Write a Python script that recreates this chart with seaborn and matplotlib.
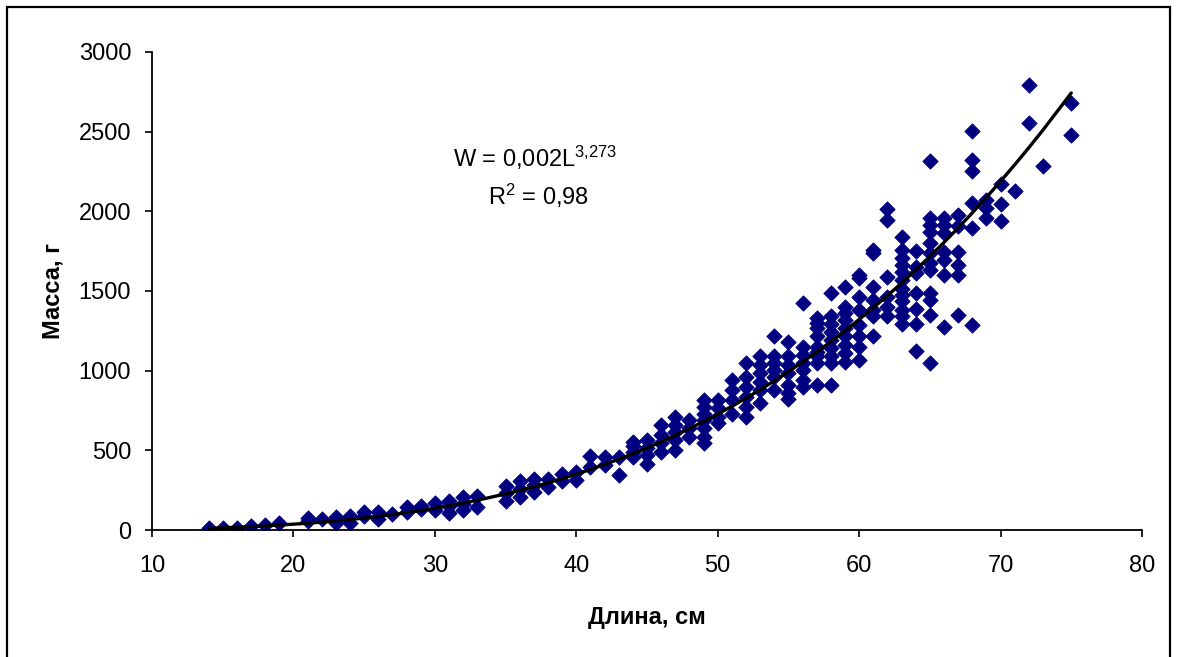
import numpy as np
import pandas as pd
import matplotlib
matplotlib.use("Agg")
import matplotlib.pyplot as plt
import seaborn as sns
from matplotlib.patches import Rectangle

# ---- data ----
length_cm = (
    [14, 15, 16, 17, 18, 19]
    + [21] * 2 + [22] + [23] * 2 + [24] * 2 + [25] * 2 + [26] * 2 + [27]
    + [28] * 2 + [29] * 2 + [30] * 2 + [31] * 3 + [32] * 3 + [33] * 2
    + [35] * 3 + [36] * 3 + [37] * 3 + [38] * 2 + [39] * 2 + [40] * 2
    + [41] * 2 + [42] * 2 + [43] * 2 + [44] * 4 + [45] * 4 + [46] * 4
    + [47] * 5 + [48] * 3 + [49] * 7 + [50] * 4 + [51] * 4 + [52] * 6
    + [53] * 6 + [54] * 6 + [55] * 7 + [56] * 7 + [57] * 9 + [58] * 9
    + [59] * 9 + [60] * 8 + [61] * 7 + [62] * 6 + [63] * 12 + [64] * 7
    + [65] * 12 + [66] * 7 + [67] * 6 + [68] * 6 + [69] * 3 + [70] * 3
    + [71] + [72] * 2 + [73] + [75] * 2
)
mass_g = (
    [15, 15, 15, 25, 30, 45]
    + [55, 75] + [70] + [45, 80] + [45, 90] + [85, 110] + [70, 110] + [100]
    + [115, 145] + [130, 150] + [125, 170] + [105, 150, 185] + [125, 165, 210] + [145, 215]
    + [185, 230, 275] + [210, 260, 310] + [240, 280, 320] + [270, 320] + [305, 350] + [315, 365]
    + [395, 465] + [410, 460] + [345, 460] + [460, 490, 525, 555] + [415, 470, 515, 565]
    + [490, 545, 595, 660]
    + [500, 565, 615, 660, 710] + [585, 640, 690] + [545, 585, 640, 690, 730, 775, 815]
    + [670, 710, 765, 815] + [730, 815, 880, 940] + [710, 775, 835, 900, 960, 1045]
    + [795, 880, 930, 985, 1035, 1090] + [880, 960, 1005, 1045, 1090, 1215]
    + [820, 860, 910, 985, 1035, 1090, 1180] + [900, 940, 1005, 1045, 1100, 1150, 1425]
    + [910, 1045, 1090, 1120, 1150, 1215, 1265, 1300, 1330]
    + [910, 1045, 1090, 1140, 1190, 1245, 1290, 1340, 1490]
    + [1055, 1110, 1160, 1215, 1265, 1320, 1360, 1400, 1525]
    + [1065, 1150, 1215, 1285, 1380, 1465, 1580, 1600]
    + [1215, 1340, 1380, 1445, 1525, 1740, 1760]
    + [1340, 1400, 1465, 1590, 1945, 2015]
    + [1295, 1340, 1380, 1435, 1475, 1515, 1570, 1620, 1665, 1705, 1755, 1840]
    + [1125, 1290, 1390, 1490, 1610, 1650, 1750]
    + [1045, 1350, 1445, 1490, 1630, 1675, 1740, 1800, 1870, 1915, 1955, 2315]
    + [1275, 1600, 1695, 1745, 1865, 1915, 1960]
    + [1350, 1600, 1665, 1745, 1905, 1975]
    + [1285, 1895, 2055, 2250, 2325, 2505]
    + [1960, 2020, 2070] + [1940, 2045, 2170]
    + [2125] + [2555, 2795] + [2285] + [2480, 2680]
)

fit_a = 0.002
fit_b = 3.273
r_squared = "0,98"

x_ticks = [10, 20, 30, 40, 50, 60, 70, 80]
y_ticks = [0, 500, 1000, 1500, 2000, 2500, 3000]
x_label = "Длина, см"
y_label = "Масса, г"

# ---- figure ----
sns.set_theme(style="white")
plt.rcParams["font.family"] = ["Liberation Sans", "DejaVu Sans"]
plt.rcParams["mathtext.fontset"] = "custom"
plt.rcParams["mathtext.rm"] = "Liberation Sans"
plt.rcParams["mathtext.it"] = "Liberation Sans"
plt.rcParams["text.color"] = "black"
plt.rcParams["axes.labelcolor"] = "black"

fig = plt.figure(figsize=(11.78, 6.57), dpi=100)
ax = fig.add_axes([0.129, 0.1933, 0.8404, 0.7276])

df = pd.DataFrame({"L": length_cm, "W": mass_g})
sns.scatterplot(data=df, x="L", y="W", ax=ax, marker="D", s=62,
                color="#000080", edgecolor="#000080", linewidth=0.5, zorder=2)

fit_x = np.array(sorted(set(length_cm)), dtype=float)
fit_df = pd.DataFrame({"L": fit_x, "W": fit_a * fit_x ** fit_b})
sns.lineplot(data=fit_df, x="L", y="W", ax=ax, color="black", linewidth=2.4, zorder=3)

ax.set_xlim(10, 80)
ax.set_ylim(0, 3000)
ax.set_xticks(x_ticks)
ax.set_yticks(y_ticks)
ax.tick_params(axis="both", direction="out", length=5, width=1.2, colors="black",
               labelsize=17, left=True, bottom=True)
ax.tick_params(axis="x", pad=13)
ax.tick_params(axis="y", pad=10)
for side in ["top", "right"]:
    ax.spines[side].set_visible(False)
for side in ["left", "bottom"]:
    ax.spines[side].set_color("black")
    ax.spines[side].set_linewidth(1.3)

ax.set_xlabel(x_label, fontsize=17, fontweight="bold", labelpad=21)
ax.set_ylabel(y_label, fontsize=17, fontweight="bold", labelpad=10)

ax.text(37.1, 2335, r"W = 0,002L$^{\mathregular{3{,}273}}$", fontsize=17,
        ha="center", va="center")
ax.text(37.3, 2095, r"R$^{\mathregular{2}}$ = " + r_squared, fontsize=17,
        ha="center", va="center")

# outer frame
fig.patches.append(Rectangle((7 / 1178, -0.05), 1163 / 1178, 1 - 7 / 657 + 0.05,
                             transform=fig.transFigure, fill=False,
                             edgecolor="black", linewidth=1.6))

fig.savefig("out.png", dpi=100)
